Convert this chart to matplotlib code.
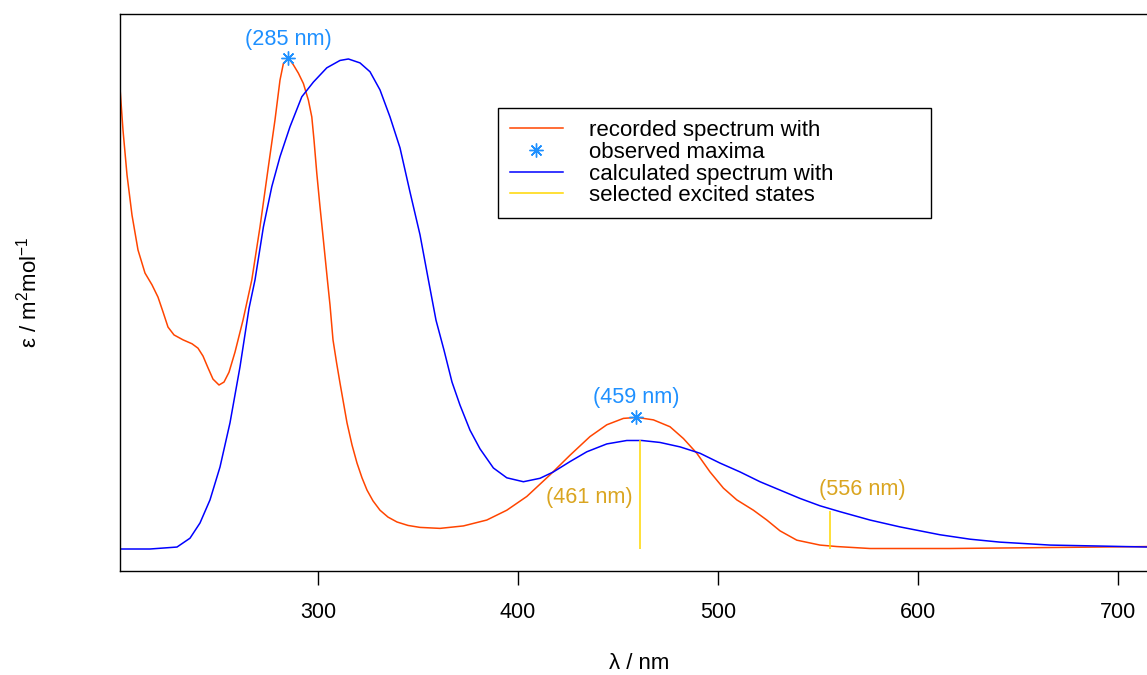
import matplotlib
matplotlib.use("Agg")
import matplotlib.pyplot as plt
from matplotlib.lines import Line2D

plt.rcParams["font.family"] = ["Liberation Sans", "DejaVu Sans"]
plt.rcParams["mathtext.fontset"] = "custom"
plt.rcParams["mathtext.rm"] = "Liberation Sans"
plt.rcParams["mathtext.it"] = "Liberation Sans:italic"

# recorded spectrum (wavelength nm, relative epsilon)
rec_nm = [201, 202.5, 204.5, 207, 210, 213.5, 217, 220, 222.5, 225, 228, 232.5,
          237, 240, 242.5, 245, 247.5, 250.5, 253, 255.5, 258.5, 262.5, 266.9,
          271, 275.2, 278.5, 281, 282.7, 285.2, 287.7, 290.2, 292.7, 295.2,
          296.9, 298, 299.4, 301, 302.7, 304.7, 306, 307.5, 309.3, 311, 314.5,
          317, 319.5, 322, 324.5, 327.5, 331, 335, 339.5, 345, 351, 361, 372.7,
          384.4, 394.4, 404.4, 416, 426, 436, 444.4, 452.7, 459.4, 467.7, 476,
          482.7, 489.4, 496, 502.7, 509.4, 517.7, 524.4, 531, 539.4, 551, 559.4,
          576, 616, 666, 715]
rec_eps = [0.939, 0.853, 0.762, 0.680, 0.609, 0.562, 0.538, 0.513, 0.483, 0.452,
           0.436, 0.426, 0.418, 0.409, 0.393, 0.369, 0.346, 0.334, 0.340, 0.360,
           0.401, 0.466, 0.548, 0.656, 0.779, 0.874, 0.955, 0.989, 1.000, 0.986,
           0.969, 0.948, 0.914, 0.880, 0.833, 0.765, 0.697, 0.629, 0.548, 0.497,
           0.426, 0.379, 0.338, 0.257, 0.212, 0.175, 0.145, 0.120, 0.098, 0.079,
           0.065, 0.055, 0.048, 0.044, 0.042, 0.047, 0.059, 0.079, 0.107, 0.151,
           0.191, 0.229, 0.253, 0.266, 0.268, 0.263, 0.249, 0.225, 0.195, 0.157,
           0.124, 0.100, 0.079, 0.059, 0.037, 0.018, 0.008, 0.005, 0.001, 0.001,
           0.003, 0.005]

# calculated spectrum
calc_nm = [201, 216, 229.5, 236, 241, 246, 251, 256, 261, 265.5, 268.5, 272.7,
           276.9, 281, 286, 291.9, 297.7, 304.4, 311, 315.2, 321, 326, 331, 336,
           341, 346, 351, 355.2, 359, 363, 367, 371, 376, 381, 387.7, 394.4,
           402.7, 411, 417.7, 426, 434.4, 444.4, 454.4, 461.9, 471, 481, 491,
           501, 511, 521, 531, 541, 551, 561, 576, 591, 611, 626, 641, 666, 691,
           715]
calc_eps = [0.000, 0.000, 0.004, 0.022, 0.053, 0.100, 0.167, 0.257, 0.371, 0.490,
            0.548, 0.656, 0.738, 0.799, 0.860, 0.921, 0.951, 0.980, 0.995, 0.998,
            0.990, 0.972, 0.935, 0.880, 0.817, 0.727, 0.640, 0.548, 0.466, 0.405,
            0.340, 0.293, 0.242, 0.204, 0.165, 0.145, 0.137, 0.144, 0.157, 0.178,
            0.198, 0.214, 0.221, 0.221, 0.217, 0.208, 0.195, 0.175, 0.157, 0.137,
            0.120, 0.103, 0.088, 0.076, 0.059, 0.045, 0.029, 0.020, 0.014, 0.008,
            0.006, 0.004]

# observed maxima
max_nm = [285, 459]
max_eps = [1.000, 0.269]
max_labels = ["(285 nm)", "(459 nm)"]

# selected excited states (sticks)
state_nm = [461, 556]
state_eps = [0.221, 0.077]
state_labels = ["(461 nm)", "(556 nm)"]

RED = "#FF4500"
BLUE = "#0000FF"
DODGER = "#1E90FF"
GOLD = "#FFD700"
GOLDENROD = "#DAA520"

fig = plt.figure(figsize=(11.47, 6.75), dpi=100)
ax = fig.add_axes([120 / 1147, 1 - 571 / 675, 1038 / 1147, 557 / 675])

ax.plot(rec_nm, rec_eps, color=RED, lw=1.1)
ax.plot(calc_nm, calc_eps, color=BLUE, lw=1.1)
ax.vlines(state_nm, 0, state_eps, color=GOLD, lw=1.1)
ax.plot(max_nm, max_eps, ls="none", marker=(8, 2, 0), ms=10, mew=1.0,
        color=DODGER)

ann_fs = 15.6
ax.text(max_nm[0], max_eps[0] + 0.037, max_labels[0], color=DODGER,
        fontsize=ann_fs, ha="center", va="center")
ax.text(max_nm[1], max_eps[1] + 0.040, max_labels[1], color=DODGER,
        fontsize=ann_fs, ha="center", va="center")
ax.text(state_nm[0] - 3.5, 0.104, state_labels[0], color=GOLDENROD,
        fontsize=ann_fs, ha="right", va="center")
ax.text(state_nm[1] + 16, 0.122, state_labels[1], color=GOLDENROD,
        fontsize=ann_fs, ha="center", va="center")

ax.set_xlim(201, 720)
ax.set_ylim(-0.0448, 1.0896)
ax.set_xticks([300, 400, 500, 600, 700])
ax.set_yticks([])
ax.tick_params(axis="x", direction="out", length=10, width=1, pad=12,
               labelsize=15.5)
for s in ["top", "left", "bottom"]:
    ax.spines[s].set_linewidth(1)
    ax.spines[s].set_color("black")

ax.set_xlabel("λ / nm", fontsize=16, labelpad=22)
ax.set_ylabel(r"ε / m$^2$mol$^{-1}$", fontsize=16)
ax.yaxis.set_label_coords(-78 / 1038, 0.5)

handles = [
    Line2D([], [], color=RED, lw=1.1),
    Line2D([], [], ls="none", marker=(8, 2, 0), ms=10, mew=1.0, color=DODGER),
    Line2D([], [], color=BLUE, lw=1.1),
    Line2D([], [], color=GOLD, lw=1.1),
]
labels = ["recorded spectrum with", "observed maxima",
          "calculated spectrum with", "selected excited states"]
x0 = (498 - 120) / 1038
top = (571 - 108) / 557
w = (931 - 498) / 1038
leg = ax.legend(handles, labels, loc="upper left", mode="expand",
                bbox_to_anchor=(x0, top - 0.2, w, 0.2),
                fontsize=16, frameon=True, fancybox=False, shadow=False,
                edgecolor="black", framealpha=1, borderpad=0.55,
                labelspacing=0.03, handlelength=2.36, handletextpad=1.2,
                borderaxespad=0)
leg.get_frame().set_linewidth(1)

fig.savefig("out.png", dpi=100)
